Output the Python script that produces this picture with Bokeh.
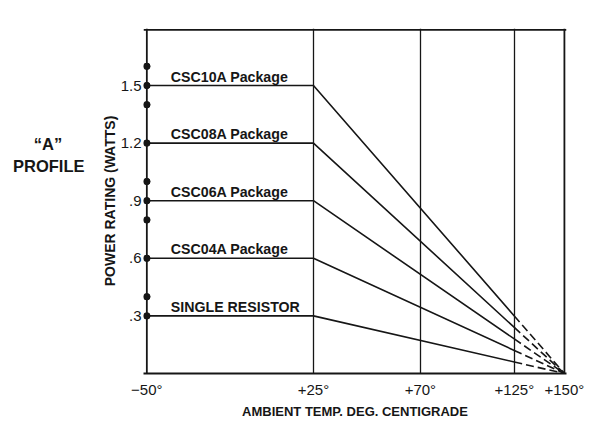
import numpy as np
from bokeh.plotting import figure
from bokeh.models import Range1d, FixedTicker, Span, Div
from bokeh.layouts import row
from bokeh.core.properties import value
from bokeh.embed import file_html
from bokeh.resources import INLINE

# ---- data ----
temp_ticks = [-50, 25, 70, 125, 150]
# hand-drawn, non-uniform temperature scale: axis position (0..100) of each tick
tick_pos = [0, 39.9, 65.5, 88.0, 100]
tick_labels = ["\u221250\u00b0", "+25\u00b0", "+70\u00b0", "+125\u00b0", "+150\u00b0"]
grid_temps = [25, 70, 125]

names = ["CSC10A Package", "CSC08A Package", "CSC06A Package", "CSC04A Package", "SINGLE RESISTOR"]
ratings = [1.5, 1.2, 0.9, 0.6, 0.3]          # flat rating up to +25°
rating_at_125 = [0.30, 0.24, 0.18, 0.12, 0.06]  # where the solid part ends
t_start, t_knee, t_solid_end, t_zero = -50, 25, 125, 150

y_ticks = [0.3, 0.6, 0.9, 1.2, 1.5]
y_labels = [".3", ".6", ".9", "1.2", "1.5"]
axis_dots = [0.3, 0.4, 0.6, 0.8, 0.9, 1.0, 1.2, 1.4, 1.5, 1.6]
y_top = 1.79

side_title = ["\u201cA\u201d", "PROFILE"]


def pos(t):
    return np.interp(t, temp_ticks, tick_pos)


FONT = "Liberation Sans"
INK = "#161616"
DIV_W = 95

p = figure(width=597 - DIV_W, height=423, output_backend="svg", toolbar_location=None,
           x_range=Range1d(-0.8, 100.5), y_range=Range1d(0, 1.797),
           min_border_left=48, min_border_right=31, min_border_top=28, min_border_bottom=50,
           margin=0)
p.outline_line_color = None
p.background_fill_color = "white"
p.border_fill_color = "white"

# frame box
for t in [t_start, t_zero]:
    p.add_layout(Span(location=float(pos(t)), dimension="height", line_color=INK, line_width=1.8))
p.add_layout(Span(location=y_top, dimension="width", line_color=INK, line_width=1.8))

# grid
p.ygrid.visible = False
p.xgrid.ticker = FixedTicker(ticks=[float(v) for v in pos(grid_temps)])
p.xgrid.grid_line_color = INK
p.xgrid.grid_line_width = 1.3
p.xgrid.grid_line_alpha = 1.0

# derating lines
for r, r125 in zip(ratings, rating_at_125):
    p.line(x=list(pos([t_start, t_knee, t_solid_end])), y=[r, r, r125],
           line_color=INK, line_width=1.6)
    p.line(x=list(pos([t_solid_end, t_zero])), y=[r125, 0],
           line_color=INK, line_width=1.6, line_dash="8 4")

# dots on the y axis
p.scatter(x=[float(pos(t_start))] * len(axis_dots), y=axis_dots, size=6.5,
          fill_color=INK, line_color=INK)

# series labels
p.text(x=[float(pos(t_start))] * len(names), y=ratings, text=names,
       x_offset=24, y_offset=-9, text_font=value(FONT), text_font_style="bold",
       text_font_size="14.2px", text_baseline="alphabetic", text_align="left",
       text_color=INK)

# axes
xa = p.xaxis[0]
xa.ticker = FixedTicker(ticks=tick_pos)
xa.major_label_overrides = {float(k): v for k, v in zip(tick_pos, tick_labels)}
xa.major_tick_out = 0
xa.major_tick_in = 0
xa.minor_tick_out = 0
xa.minor_tick_in = 0
xa.major_label_standoff = 7
xa.axis_line_color = INK
xa.axis_line_width = 1.8
xa.major_label_text_font = FONT
xa.major_label_text_font_size = "15px"
xa.major_label_text_color = INK
xa.axis_label = "AMBIENT TEMP. DEG. CENTIGRADE"
xa.axis_label_text_font = FONT
xa.axis_label_text_font_style = "bold"
xa.axis_label_text_font_size = "13px"
xa.axis_label_text_color = INK
xa.axis_label_standoff = 3

ya = p.yaxis[0]
ya.ticker = FixedTicker(ticks=y_ticks)
ya.major_label_overrides = {float(k): v for k, v in zip(y_ticks, y_labels)}
ya.major_tick_out = 0
ya.major_tick_in = 0
ya.minor_tick_out = 0
ya.minor_tick_in = 0
ya.axis_line_color = None
ya.major_label_standoff = 2
ya.major_label_text_font = FONT
ya.major_label_text_font_size = "15px"
ya.major_label_text_color = INK
ya.axis_label = "POWER RATING (WATTS)"
ya.axis_label_text_font = FONT
ya.axis_label_text_font_style = "bold"
ya.axis_label_text_font_size = "14px"
ya.axis_label_text_color = INK
ya.axis_label_standoff = 0

# side title
div = Div(text=('<div style="padding-top:134px; padding-left:13px; width:83px; '
                'text-align:center; font-family:\'Liberation Sans\'; font-weight:bold; '
                'font-size:16.5px; line-height:21.6px; color:%s">%s</div>'
                % (INK, "<br>".join(side_title))),
          width=DIV_W, height=423, margin=0)

layout = row(div, p)
open("out.html", "w").write(file_html(layout, INLINE))
